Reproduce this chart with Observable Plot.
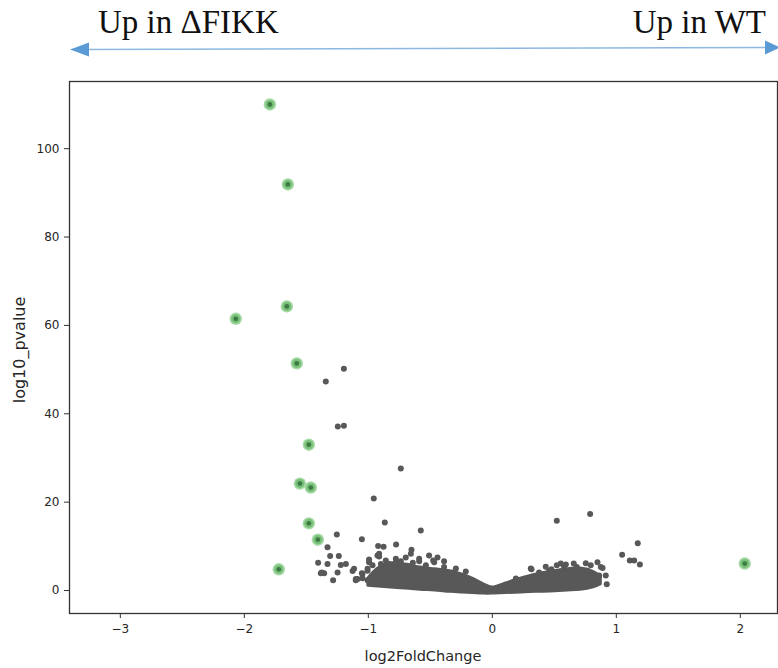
<!DOCTYPE html>
<html>
<head>
<meta charset="utf-8">
<script src="https://cdn.jsdelivr.net/npm/d3@7"></script>
<script src="https://cdn.jsdelivr.net/npm/@observablehq/plot@0.6"></script>
<style>
  html, body { margin: 0; padding: 0; background: #fff; }
  #chart { width: 778px; height: 668px; }
</style>
</head>
<body>
<div id="chart"></div>
<script>
// ---- data ----
const xTicks = [-3, -2, -1, 0, 1, 2];
const yTicks = [0, 20, 40, 60, 80, 100];

// highlighted (significant) genes
const sigX = [-1.794, -1.649, -1.657, -2.069, -1.577, -1.480, -1.552, -1.464, -1.480, -1.407, -1.722, 2.036];
const sigY = [110.0, 91.9, 64.3, 61.5, 51.4, 33.0, 24.2, 23.3, 15.2, 11.5, 4.8, 6.1];

// isolated grey genes
const otherX = [-1.197, -1.343, -1.197, -1.246, -0.738, -0.956, -0.867, -0.577, -1.254, 0.520, 0.789, 1.173, 1.047, 1.109, 1.144, 1.190,
  -1.052, -1.329, -0.921, -0.877, -0.776, -0.652, -1.308, -1.238, -1.405, -1.329, -1.222, -1.181, -1.115, -1.375, -1.356, -1.248,
  -1.127, -1.284, -1.087, -1.047, -0.994, -0.913, -0.966, -0.899, -0.832, -0.778, -0.698, -0.657, -0.590, -0.510, -0.442, -0.469,
  -0.389, -0.321, -0.873, -1.006, -0.940, -1.101, -1.052, -1.006, -0.994, -0.926, -1.383,
  -0.590, -0.477, -0.389, -0.913, -1.006, -1.047, -1.101, -0.859, -0.778, -0.738, -0.641, -0.536, -0.294, -0.214,
  0.316, 0.377, 0.458, 0.477, 0.520, 0.579, 0.593, 0.633, 0.681, 0.754, 0.781, 0.727, 0.768, 0.848, 0.889, 0.915, 0.923, 0.821, 0.861, 0.875,
  0.310, 0.431, 0.552, 0.657, 0.794, 0.190];
const otherY = [50.2, 47.3, 37.3, 37.1, 27.6, 20.8, 15.4, 13.6, 12.7, 15.8, 17.3, 10.7, 8.1, 6.8, 6.8, 5.9,
  11.6, 9.8, 10.1, 9.9, 10.4, 9.2, 7.8, 7.8, 6.3, 6.0, 5.8, 6.0, 4.9, 4.1, 3.9, 4.1,
  4.4, 2.3, 2.6, 3.8, 6.4, 7.7, 5.7, 6.0, 6.0, 6.4, 7.5, 8.3, 6.6, 7.9, 7.5, 6.4,
  5.3, 4.1, 3.0, 2.3, 3.8, 2.3, 3.9, 4.5, 7.0, 7.9, 3.9,
  7.2, 6.8, 6.6, 8.3, 4.9, 2.8, 2.6, 6.8, 7.2, 6.6, 6.3, 5.7, 5.0, 4.3,
  4.8, 4.1, 4.5, 4.8, 5.7, 5.4, 5.9, 4.7, 5.3, 6.2, 4.1, 3.0, 4.5, 6.4, 5.1, 3.4, 1.4, 1.5, 3.4, 5.3,
  5.0, 5.4, 6.1, 6.1, 5.7, 2.7];

// dense cloud of non-significant genes: envelope of the solid mass
const cloudX    = [-1.00, -0.92, -0.82, -0.70, -0.58, -0.46, -0.335, -0.24, -0.16, -0.07, 0.00, 0.11, 0.23, 0.35, 0.47, 0.61, 0.71, 0.81, 0.875];
const cloudHigh = [2.7, 5.0, 6.1, 5.9, 5.2, 4.8, 4.3, 3.6, 2.7, 1.4, 0.7, 1.6, 2.7, 3.6, 4.2, 4.8, 5.0, 4.3, 3.2];
const cloudLow  = [1.1, 0.9, 0.7, 0.45, 0.2, 0.0, -0.3, -0.45, -0.55, -0.7, -0.7, -0.55, -0.45, -0.3, -0.2, 0.0, 0.2, 0.7, 1.4];

const xDomain = [-3.41, 2.30];
const yDomain = [-5.2, 115.2];

// ---- tables ----
const sig = sigX.map((x, i) => ({x, y: sigY[i]}));
const other = otherX.map((x, i) => ({x, y: otherY[i]}));
const cloud = cloudX.map((x, i) => ({x, lo: cloudLow[i], hi: cloudHigh[i]}));

const grey = "#585858";
const fmt = d3.format("d");

const svg = Plot.plot({
  width: 778,
  height: 668,
  marginTop: 81,
  marginBottom: 55,
  marginLeft: 69,
  marginRight: 1,
  style: {fontFamily: "DejaVu Sans", fontSize: "12px", color: "#262626", background: "#fff"},
  x: {domain: xDomain, ticks: xTicks, tickFormat: fmt, label: null},
  y: {domain: yDomain, ticks: yTicks, tickFormat: fmt, label: null},
  marks: [
    Plot.areaY(cloud, {x: "x", y1: "lo", y2: "hi", fill: grey, stroke: grey, strokeWidth: 3, curve: "catmull-rom"}),
    Plot.dot(other, {x: "x", y: "y", r: 3, fill: grey, stroke: "none"}),
    Plot.dot(sig, {x: "x", y: "y", r: 6.2, fill: "#a6d9a6", stroke: "none"}),
    Plot.dot(sig, {x: "x", y: "y", r: 4.6, fill: "#79c179", stroke: "none"}),
    Plot.dot(sig, {x: "x", y: "y", r: 2.4, fill: "#3d7a44", stroke: "none"}),
    Plot.axisX({ticks: xTicks, tickFormat: fmt, tickSize: 5, tickPadding: 6, fontSize: 12, label: null, stroke: "#333"}),
    Plot.axisY({ticks: yTicks, tickFormat: fmt, tickSize: 5, tickPadding: 5, fontSize: 12, label: null, stroke: "#333"}),
    Plot.frame({stroke: "#333", strokeWidth: 1.3})
  ]
});

document.getElementById("chart").appendChild(svg);

// ---- axis titles and header ----
const s = d3.select(svg);
s.append("text")
  .attr("x", 423).attr("y", 661)
  .attr("text-anchor", "middle")
  .attr("font-family", "DejaVu Sans").attr("font-size", 14.5).attr("fill", "#262626")
  .text("log2FoldChange");
s.append("text")
  .attr("transform", "translate(25,350) rotate(-90)")
  .attr("text-anchor", "middle")
  .attr("font-family", "DejaVu Sans").attr("font-size", 16).attr("fill", "#262626")
  .text("log10_pvalue");

const arrowColor = "#5b9bd5";
s.append("line")
  .attr("x1", 84).attr("y1", 49.5).attr("x2", 766).attr("y2", 47.5)
  .attr("stroke", "#8db8e2").attr("stroke-width", 1.6);
s.append("path")
  .attr("d", "M70,49.5 L89,42.5 L89,56.5 Z").attr("fill", arrowColor);
s.append("path")
  .attr("d", "M780,47.5 L765,40.5 L765,54.5 Z").attr("fill", arrowColor);

s.append("text")
  .attr("x", 98).attr("y", 33)
  .attr("text-anchor", "start")
  .attr("font-family", "Liberation Serif").attr("font-size", 33).attr("fill", "#111")
  .text("Up in ΔFIKK");
s.append("text")
  .attr("x", 766).attr("y", 33)
  .attr("text-anchor", "end")
  .attr("font-family", "Liberation Serif").attr("font-size", 33).attr("fill", "#111")
  .text("Up in WT");
</script>
</body>
</html>
